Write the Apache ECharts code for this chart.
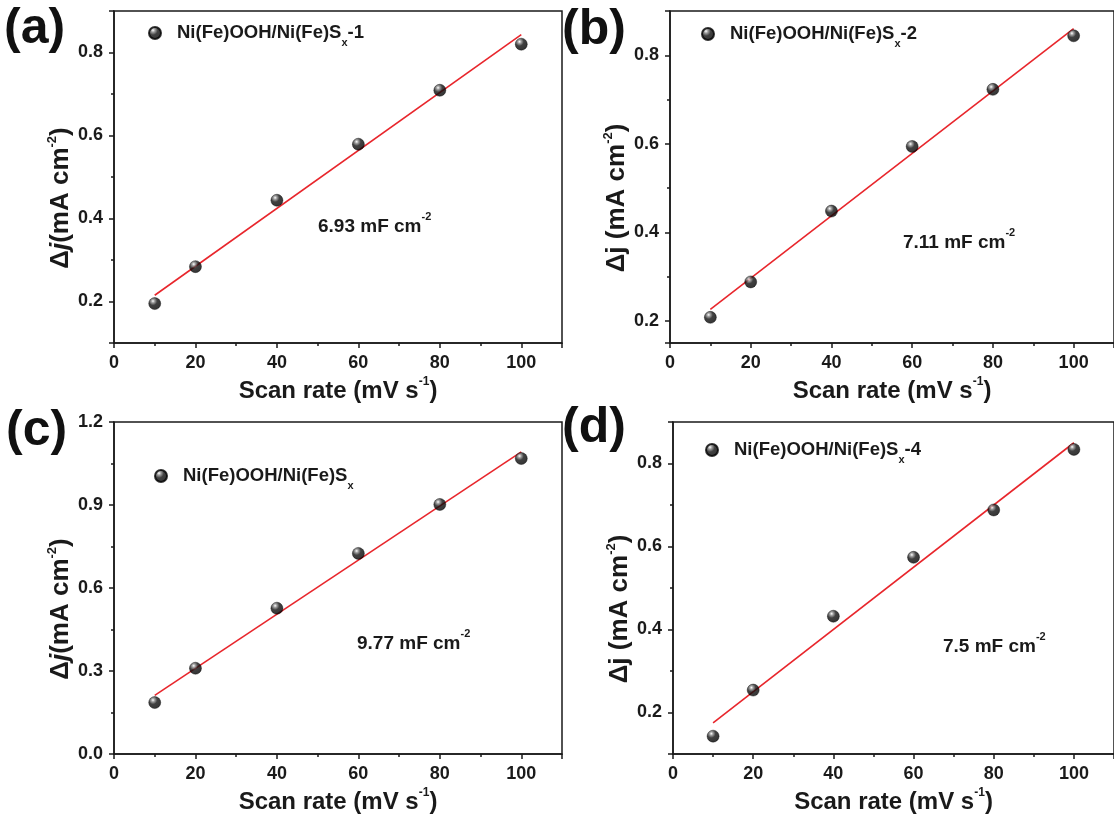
<!DOCTYPE html>
<html><head><meta charset="utf-8">
<script src="https://cdn.jsdelivr.net/npm/echarts@6/dist/echarts.min.js"></script>
<style>html,body{margin:0;padding:0;background:#fff}#c{width:1114px;height:818px}</style>
</head><body><div id="c"></div>
<script>
// ---- data ----
const scanRates = [10, 20, 40, 60, 80, 100];           // mV s^-1
const deltaJ_a = [0.195, 0.284, 0.444, 0.579, 0.709, 0.820];
const deltaJ_b = [0.208, 0.288, 0.448, 0.594, 0.723, 0.844];
const deltaJ_c = [0.186, 0.310, 0.527, 0.725, 0.902, 1.068];
const deltaJ_d = [0.143, 0.254, 0.432, 0.574, 0.688, 0.834];
const fitRates = [10, 100];
const fit_a = [0.215, 0.843];
const fit_b = [0.226, 0.860];
const fit_c = [0.212, 1.092];
const fit_d = [0.175, 0.850];
const panelLetters = ['(a)', '(b)', '(c)', '(d)'];
const legendBase = 'Ni(Fe)OOH/Ni(Fe)S';
const legendSuffix = ['-1', '-2', '', '-4'];
const capacitance = ['6.93', '7.11', '9.77', '7.5'];
const xTicks = [0, 20, 40, 60, 80, 100];

const FONT = '"Liberation Sans", Arial, sans-serif';
const INK = '#1a1a1a';

const panels = [
  {d: deltaJ_a, f: fit_a, ymin: 0.1, ymax: 0.9, grid: {left: 114, top: 11, right: 552, bottom: 475}, italic: true,
   leg: [148, 19], cap: [318, 211], let: [4, 4]},
  {d: deltaJ_b, f: fit_b, ymin: 0.15, ymax: 0.9, grid: {left: 670, top: 11, right: -3, bottom: 475}, italic: false,
   leg: [701, 20], cap: [903, 227], let: [562, 5]},
  {d: deltaJ_c, f: fit_c, ymin: 0, ymax: 1.2, interval: 0.3, grid: {left: 114, top: 422, right: 552, bottom: 64}, italic: true,
   leg: [154, 462], cap: [357, 628], let: [6, 406]},
  {d: deltaJ_d, f: fit_d, ymin: 0.1, ymax: 0.9, grid: {left: 673, top: 422, right: -7, bottom: 64}, italic: false,
   leg: [705, 436], cap: [943, 631], let: [562, 403]}
];

const ball = {type: 'radial', x: 0.36, y: 0.3, r: 0.75,
  colorStops: [{offset: 0, color: '#ffffff'}, {offset: 0.18, color: '#8a8a8a'}, {offset: 0.45, color: '#111111'}, {offset: 1, color: '#000000'}]};

const grids = [], xAxes = [], yAxes = [], series = [], legends = [], graphics = [];

panels.forEach((p, i) => {
  const name = legendBase + 'x' + legendSuffix[i];
  grids.push(Object.assign({show: true, borderColor: INK, borderWidth: 1.5, backgroundColor: 'transparent'}, p.grid));
  xAxes.push({
    type: 'value', gridIndex: i, min: 0, max: 110, interval: 20,
    name: '{m|Scan rate (mV s}{p|-1}{m|)}', nameLocation: 'middle', nameGap: 33,
    nameTextStyle: {rich: {
      m: {fontFamily: FONT, fontWeight: 'bold', fontSize: 24, color: INK, lineHeight: 30, verticalAlign: 'middle'},
      p: {fontFamily: FONT, fontWeight: 'bold', fontSize: 12, color: INK, lineHeight: 12, verticalAlign: 'top'}}},
    axisLine: {show: true, lineStyle: {color: INK, width: 1.5}},
    axisTick: {show: true, inside: false, length: 5, lineStyle: {color: INK, width: 1.5}},
    minorTick: {show: true, splitNumber: 2, length: 3, lineStyle: {color: INK, width: 1.5}},
    splitLine: {show: false}, minorSplitLine: {show: false},
    axisLabel: {show: true, margin: 11, showMaxLabel: false, fontFamily: FONT, fontWeight: 'bold', fontSize: 18, color: INK,
      formatter: v => (xTicks.indexOf(v) >= 0 ? String(v) : '')}
  });
  const jName = p.italic ? '{m|Δ}{i|j}{m|(mA cm}{p|-2}{m|)}' : '{m|Δj (mA cm}{p|-2}{m|)}';
  const yAx = {
    type: 'value', gridIndex: i, min: p.ymin, max: p.ymax,
    name: jName, nameLocation: 'middle', nameGap: 38,
    nameTextStyle: {padding: [0, 42, 0, 0], rich: {
      m: {fontFamily: FONT, fontWeight: 'bold', fontSize: 26, color: INK, lineHeight: 30, verticalAlign: 'middle'},
      i: {fontFamily: FONT, fontWeight: 'bold', fontStyle: 'italic', fontSize: 26, color: INK, lineHeight: 30, verticalAlign: 'middle'},
      p: {fontFamily: FONT, fontWeight: 'bold', fontSize: 13, color: INK, lineHeight: 12, verticalAlign: 'top'}}},
    axisLine: {show: true, lineStyle: {color: INK, width: 1.5}},
    axisTick: {show: true, inside: false, length: 5, lineStyle: {color: INK, width: 1.5}},
    minorTick: {show: true, splitNumber: 2, length: 3, lineStyle: {color: INK, width: 1.5}},
    splitLine: {show: false}, minorSplitLine: {show: false},
    axisLabel: {show: true, margin: 11, fontFamily: FONT, fontWeight: 'bold', fontSize: 18, color: INK,
      formatter: v => v.toFixed(1)}
  };
  if (p.interval) { yAx.interval = p.interval; }
  else { yAx.splitNumber = 4; yAx.axisLabel.showMinLabel = false; yAx.axisLabel.showMaxLabel = false; }
  yAxes.push(yAx);

  series.push({
    type: 'line', name: 'fit' + i, xAxisIndex: i, yAxisIndex: i, z: 2,
    data: fitRates.map((x, k) => [x, p.f[k]]), showSymbol: false, symbol: 'none',
    lineStyle: {color: '#e8262c', width: 1.6}, silent: true
  });
  series.push({
    type: 'scatter', name: name, xAxisIndex: i, yAxisIndex: i, z: 3,
    data: scanRates.map((x, k) => [x, p.d[k]]), symbol: 'circle', symbolSize: 12,
    itemStyle: {color: ball, borderColor: '#000', borderWidth: 0.5}
  });
  legends.push({
    data: [name], left: p.leg[0], top: p.leg[1], icon: 'circle', itemWidth: 12, itemHeight: 12,
    selectedMode: false, padding: 0,
    formatter: () => '{m|' + legendBase + '}{s|x}' + (legendSuffix[i] ? '{m|' + legendSuffix[i] + '}' : ''),
    textStyle: {padding: [0, 0, 0, 11], rich: {
      m: {fontFamily: FONT, fontWeight: 'bold', fontSize: 18.5, color: INK, lineHeight: 28, verticalAlign: 'middle'},
      s: {fontFamily: FONT, fontWeight: 'bold', fontSize: 11, color: INK, lineHeight: 10, padding: [18, 0, 0, 0], verticalAlign: 'top'}}}
  });
  graphics.push({
    type: 'text', left: p.cap[0], top: p.cap[1],
    style: {text: '{m|' + capacitance[i] + ' mF cm}{p|-2}', rich: {
      m: {fontFamily: FONT, fontWeight: 'bold', fontSize: 19, fill: INK, lineHeight: 32, verticalAlign: 'middle'},
      p: {fontFamily: FONT, fontWeight: 'bold', fontSize: 11, fill: INK, lineHeight: 10, verticalAlign: 'top'}}}
  });
  graphics.push({
    type: 'text', left: p.let[0], top: p.let[1],
    style: {text: panelLetters[i], fontFamily: FONT, fontWeight: 'bold', fontSize: 50, fill: '#111'}
  });
});

const chart = echarts.init(document.getElementById('c'), null, {renderer: 'canvas'});
chart.setOption({
  backgroundColor: '#fff', animation: false,
  grid: grids, xAxis: xAxes, yAxis: yAxes, series: series, legend: legends, graphic: graphics
});
</script></body></html>
